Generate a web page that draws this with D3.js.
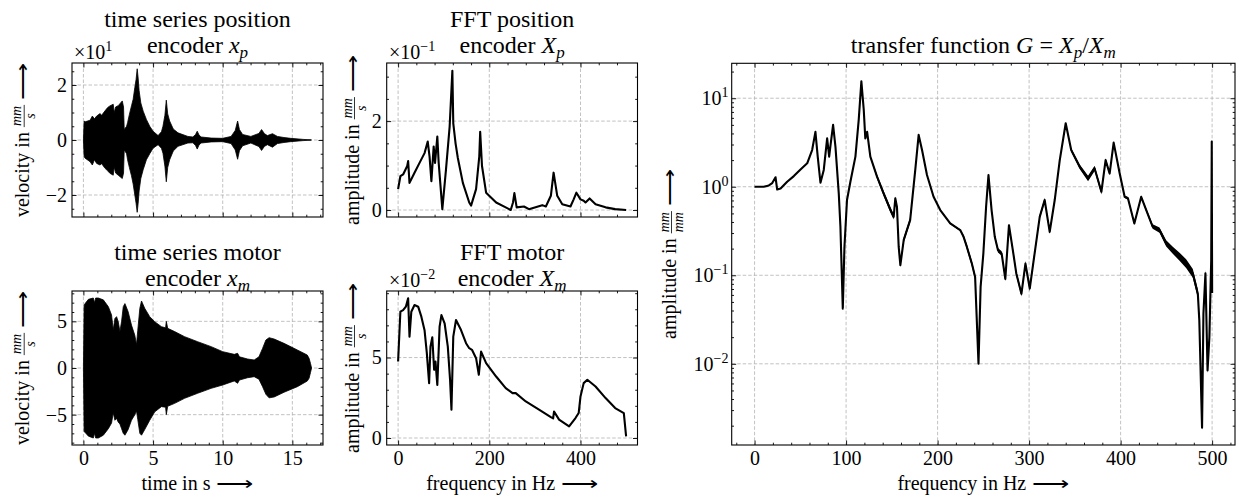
<!DOCTYPE html>
<html><head><meta charset="utf-8">
<script src="https://cdn.jsdelivr.net/npm/d3@7"></script>
<style>
body{margin:0;background:#fff;}
svg{display:block;}
</style></head><body>
<script>
// ---------------- DATA ----------------
// time series, position encoder x_p : envelope of velocity (mm/s)
const xpTime  = [0,0.05,0.12,0.48,0.64,0.79,0.95,1.19,1.31,1.55, 1.74,1.90,2.14,2.21,2.31,2.50,2.79,2.88,2.93,3.10, 3.17,3.30,3.45,3.57,3.69,3.78,3.86,3.93,4.00,4.12, 4.29,4.52,4.76,5.00,5.36,5.60,5.71,5.85,5.95,6.05, 6.19,6.45,6.79,7.50,7.86,8.05,8.17,8.30,8.45,9.17, 10.0,10.6,10.9,11.07,11.2,11.43,12.02,12.6,12.79,13.0, 13.21,13.57,13.93,14.4,14.88,15.83,16.36];
const xpUpper = [0,6.9,6.6,7.2,8.7,7.7,8.7,9.6,9.0,10.6, 11.8,12.4,13.0,10.0,12.0,12.5,14.2,12.0,3.8,5.0, 6.3,9.3,12.4,14.8,19.1,22.0,25.9,22.5,17.9,13.5, 10.5,7.5,5.0,3.2,1.6,3.0,5.0,9.0,14.5,9.5, 6.9,4.0,2.6,1.3,1.1,2.0,3.2,1.8,1.1,0.7, 0.6,1.3,3.5,6.9,3.8,2.0,1.3,2.4,3.8,2.3, 1.6,2.3,1.3,0.9,0.6,0.2,0.05];
const xpLower = [0,-6.0,-6.6,-7.9,-9.1,-7.2,-8.5,-9.1,-8.6,-10.3, -11.2,-12.1,-12.8,-9.8,-12.0,-12.8,-14.0,-12.0,-3.6,-5.0, -7.2,-10.0,-13.0,-16.0,-20.0,-23.0,-26.3,-23.0,-18.5,-14.0, -10.8,-7.2,-5.0,-3.0,-1.7,-3.0,-4.8,-9.5,-15.2,-10.0, -7.2,-4.0,-2.3,-1.1,-1.0,-2.0,-3.3,-1.8,-1.1,-0.7, -0.6,-1.3,-3.6,-7.0,-3.9,-2.1,-1.1,-2.4,-3.8,-2.3, -1.7,-2.6,-1.3,-0.9,-0.6,-0.2,-0.05];

// time series, motor encoder x_m : envelope of velocity (mm/s)
const xmTime  = [0,0.05,0.12,0.36,0.71,0.8,0.88,1.07,1.43,1.79, 2.02,2.14,2.26,2.38,2.5,2.62,2.74,2.86,2.98,3.21, 3.45,3.69,3.81,3.9,4.05,4.17,4.4,4.76,5.12,5.6, 5.9,5.95,6.05,6.55,7.26,8.2,9.17,10.0,10.83,11.07, 11.2,11.79,12.26,12.6,12.86,13.1,13.33,13.7,14.4,15.36, 16.07,16.2,16.3,16.38];
const xmUpper = [0,6.7,6.9,7.36,7.5,7.0,7.5,7.5,7.3,6.57, 5.68,4.1,5.3,5.5,4.96,3.9,5.0,6.57,6.9,6.04, 4.6,3.5,2.5,4.0,6.4,7.18,6.4,5.5,4.96,4.43, 4.3,5.0,4.25,3.9,3.36,2.82,2.29,1.75,1.46,1.57, 1.2,0.96,0.86,1.2,2.1,3.0,3.25,3.1,2.64,1.93, 1.39,1.04,0.5,0];
const xmLower = [0,-6.8,-6.9,-7.3,-7.5,-7.0,-7.5,-7.5,-7.2,-6.5, -5.9,-4.8,-5.6,-5.4,-5.8,-6.0,-6.5,-7.0,-7.2,-6.6, -5.6,-5.0,-4.6,-5.5,-7.0,-7.2,-6.6,-5.6,-4.7,-4.14, -4.2,-5.0,-4.1,-3.79,-3.25,-2.71,-2.18,-1.82,-1.39,-1.64, -1.29,-1.04,-0.93,-1.2,-2.0,-2.82,-3.2,-3.1,-2.6,-2.0, -1.4,-1.1,-0.5,0];

// FFT position encoder X_p (mm/s)
const xpFreq = [0,5,11,20,22,25,36,47,58,65, 69,73,78,81,86,89,97,105,113,119, 121,126,131,142,156,160,171,178,180,184, 193,215,236,247,252,255,260,276,287,316, 324,335,341,349,360,378,385,391,400,407, 411,420,433,455,476,500];
const xpAmp  = [0.047,0.076,0.080,0.099,0.110,0.061,0.084,0.106,0.128,0.154, 0.120,0.065,0.143,0.106,0.165,0.106,0.002,0.091,0.187,0.313, 0.195,0.150,0.117,0.061,0.017,0.010,0.047,0.120,0.176,0.099, 0.039,0.017,0.006,0.000,0.017,0.038,0.006,0.008,0.002,0.011, 0.008,0.032,0.084,0.032,0.013,0.008,0.024,0.039,0.024,0.021, 0.017,0.026,0.013,0.006,0.002,0.000];

// FFT motor encoder X_m (mm/s)
const xmFreq = [0,5,11,17,22,25,29,36,44,51, 58,63,68,71,75,79,82,86,91,95, 102,109,114,117,121,127,138,149,156,162, 171,177,182,193,215,236,251,258,280,309, 335,340,342,353,375,389,396,400,407,415, 433,455,476,495,500];
const xmAmp  = [0.0475,0.0785,0.0795,0.0816,0.0868,0.063,0.0785,0.0826,0.0816,0.0754, 0.067,0.0527,0.034,0.0568,0.0626,0.0424,0.0475,0.033,0.0692,0.0764, 0.0713,0.0568,0.036,0.0176,0.063,0.0733,0.0671,0.0589,0.0558,0.0548, 0.0496,0.0393,0.0537,0.0465,0.0382,0.031,0.0279,0.0279,0.0227,0.0176, 0.013,0.0122,0.0165,0.0114,0.0072,0.0124,0.0155,0.0258,0.0341,0.0362, 0.032,0.0248,0.0186,0.0155,0.001];

// transfer function G = X_p / X_m (mm/mm)
const gFreq = [0,10,15.6,19.3,22.9,24.7,28.4,35.6,42.9,50.2, 57.5,62.9,66.5,69,72,75.6,79.3,81.5,83,85.8, 88.4,92,93.8,96.4,98.2,101,104.7,110.2,113.8,116.7, 119.3,121,123,126.5,133.8,141,148.4,152,153.8,155.6, 157.5,159.3,163,170,175.6,179.3,183,188.4,195.6,202.9, 213.8,224.7,228.4,232,237.5,241,244.7,247,250,253, 255.6,259,262.5,266,270,274,278,282.5,286,291.6, 296,300.7,306,311.6,317,322.5,328,333.5,340,346, 355.3,364.4,371.6,379,383.6,388,392.4,399,404.4,408, 415,422.5,428,435,442.5,449.8,457,464.4,471.6,478.9, 484.4,486,489,490.5,492.7,495,497,499,499.6,500];
const gAmp  = [1.0,1.0,1.035,1.10,1.28,0.93,0.955,1.14,1.32,1.57, 1.84,2.6,4.17,2.19,1.11,1.55,3.52,2.19,2.95,5.0, 2.82,0.84,0.355,0.042,0.209,0.708,1.14,2.19,5.69,15.5, 7.41,3.52,4.17,2.19,1.30,0.84,0.55,0.457,0.74,0.59, 0.209,0.13,0.251,0.42,1.55,3.85,2.6,1.355,0.77,0.545, 0.385,0.324,0.272,0.209,0.135,0.0955,0.010,0.074,0.176,0.594, 1.355,0.545,0.272,0.192,0.176,0.091,0.368,0.184,0.105,0.0617, 0.1355,0.0708,0.176,0.457,0.708,0.309,0.708,2.0,5.21,2.6, 1.68,1.24,1.61,0.877,2.0,1.41,3.15,1.41,0.77,0.74, 0.385,0.77,0.545,0.355,0.324,0.229,0.192,0.162,0.1355,0.105, 0.0617,0.031,0.0019,0.037,0.105,0.0084,0.020,0.148,3.24,0.063];
// half-width of the noisy band around G, in decades
const gSpread = [0,0,0,0,0,0,0,0,0,0, 0,0,0,0,0,0,0,0,0,0, 0,0,0,0,0,0,0,0,0,0, 0,0,0,0.01,0.025,0.03,0.03,0.03,0.02,0.02, 0.02,0.02,0.03,0.03,0.02,0.01,0.01,0.01,0.008,0.008, 0.008,0.01,0.02,0.03,0.03,0.03,0.02,0.03,0.03,0.02, 0.02,0.02,0.025,0.025,0.025,0.03,0.02,0.03,0.03,0.03, 0.03,0.03,0.03,0.025,0.025,0.025,0.02,0.015,0.01,0.02, 0.025,0.03,0.03,0.03,0.02,0.02,0.01,0.015,0.015,0.015, 0.015,0.015,0.02,0.025,0.03,0.035,0.04,0.045,0.05,0.05, 0.05,0.05,0.03,0.04,0.04,0.03,0.03,0.02,0,0];

// tick values
const timeTicks = [0,5,10,15];
const freqTicksSmall = [0,200,400];
const freqTicksLarge = [0,100,200,300,400,500];
const xpTicks = [-20,0,20];
const xmTicks = [-5,0,5];
const XpTicks = [0,0.2];
const XmTicks = [0,0.05];
const gTicks = [0.01,0.1,1,10];

// ---------------- DRAWING ----------------
const FONT = '"Liberation Serif","Times New Roman",serif';
const svg = d3.select('body').append('svg').attr('width',1240).attr('height',498);

function range(a,b,s){const r=[];for(let v=a;v<=b+1e-9;v+=s)r.push(+v.toFixed(6));return r;}
function minorOf(vals, majors){return vals.filter(v=>!majors.some(m=>Math.abs(m-v)<1e-9));}

let clipN=0;
function makePanel(c){
  const g = svg.append('g');
  const xs = d3.scaleLinear().domain(c.xd).range([c.left,c.right]);
  const ys = (c.log?d3.scaleLog():d3.scaleLinear()).domain(c.yd).range([c.bottom,c.top]);
  const id='clip'+(clipN++);
  svg.append('clipPath').attr('id',id).append('rect')
    .attr('x',c.left).attr('y',c.top).attr('width',c.right-c.left).attr('height',c.bottom-c.top);
  const grid=g.append('g').attr('stroke','#b3b3b3').attr('stroke-width',0.8).attr('stroke-dasharray','3.5,2');
  grid.selectAll(null).data(c.xMaj).join('line')
    .attr('x1',d=>xs(d)).attr('x2',d=>xs(d)).attr('y1',c.top).attr('y2',c.bottom);
  grid.selectAll(null).data(c.yMaj).join('line')
    .attr('y1',d=>ys(d)).attr('y2',d=>ys(d)).attr('x1',c.left).attr('x2',c.right);
  const plot=g.append('g').attr('clip-path',`url(#${id})`);
  return {g,xs,ys,plot,c};
}

function axis(p, gen, tr, vals, size, fmt, pad){
  const a=p.g.append('g').attr('transform',tr)
    .call(gen.tickValues(vals).tickSizeInner(-size).tickSizeOuter(0).tickPadding(pad||6).tickFormat(fmt||(()=>'')));
  a.attr('font-family',FONT).attr('font-size',20);
  a.select('.domain').remove();
  a.selectAll('.tick line').attr('stroke','#000').attr('stroke-width',0.9);
  a.selectAll('.tick text').attr('fill','#000').attr('font-family',FONT);
  return a;
}

function finishPanel(p){
  const c=p.c;
  axis(p,d3.axisBottom(p.xs),`translate(0,${c.bottom})`,c.xMaj,4.5,c.xFmt,5.8);
  axis(p,d3.axisBottom(p.xs),`translate(0,${c.bottom})`,c.xMin,2.3);
  axis(p,d3.axisTop(p.xs),`translate(0,${c.top})`,c.xMaj,4.5);
  axis(p,d3.axisTop(p.xs),`translate(0,${c.top})`,c.xMin,2.3);
  axis(p,d3.axisLeft(p.ys),`translate(${c.left},0)`,c.yMaj,4.5,c.yFmt,5);
  axis(p,d3.axisLeft(p.ys),`translate(${c.left},0)`,c.yMin,2.3);
  axis(p,d3.axisRight(p.ys),`translate(${c.right},0)`,c.yMaj,4.5);
  axis(p,d3.axisRight(p.ys),`translate(${c.right},0)`,c.yMin,2.3);
  p.g.append('rect').attr('x',c.left).attr('y',c.top).attr('width',c.right-c.left).attr('height',c.bottom-c.top)
    .attr('fill','none').attr('stroke','#000').attr('stroke-width',1.1);
}

function title(cx, lines){
  lines.forEach(L=>{
    const t=svg.append('text').attr('x',cx).attr('y',L.y).attr('text-anchor','middle')
      .attr('font-family',FONT).attr('font-size',24).attr('fill','#000');
    let shifted=0;
    L.parts.forEach(pt=>{
      const s=t.append('tspan').text(pt.t);
      if(pt.i) s.attr('font-style','italic');
      if(pt.sub){ s.attr('font-size',17).attr('dy',5-shifted); shifted=5; }
      else if(shifted){ s.attr('dy',-shifted); shifted=0; }
    });
  });
}

function offsetText(x,y,exp){
  const t=svg.append('text').attr('x',x).attr('y',y).attr('font-family',FONT).attr('font-size',20).attr('fill','#000');
  t.append('tspan').text('×10');
  t.append('tspan').attr('font-size',14).attr('dy',-8).text(exp);
}

// long right arrow (text glyph, stretched horizontally); returns its width
function arrowText(parent,x,y){
  const sx=1.3;
  const g=parent.append('g').attr('transform',`translate(${x},${y}) scale(${sx},1)`);
  const t=g.append('text').attr('x',0).attr('y',0).attr('font-family','"DejaVu Sans"').attr('font-weight',200)
    .attr('font-size',20).attr('fill','#000').text('⟶');
  return t.node().getComputedTextLength()*sx;
}

function yLabel(baseX, cy, word, num, den){
  const g=svg.append('g').attr('transform',`translate(${baseX},${cy}) rotate(-90)`);
  const inner=g.append('g').attr('font-family',FONT).attr('fill','#000');
  const t1=inner.append('text').attr('x',0).attr('y',0).attr('font-size',20).text(word);
  let x=t1.node().getComputedTextLength()+5;
  const tn=inner.append('text').attr('font-size',14).attr('font-style','italic').attr('text-anchor','middle').text(num);
  const td=inner.append('text').attr('font-size',14).attr('font-style','italic').attr('text-anchor','middle').text(den);
  const fw=Math.max(tn.node().getComputedTextLength(),td.node().getComputedTextLength())+2;
  tn.attr('x',x+fw/2).attr('y',-7.5);
  td.attr('x',x+fw/2).attr('y',6.5);
  inner.append('line').attr('x1',x).attr('x2',x+fw).attr('y1',-4.5).attr('y2',-4.5).attr('stroke','#000').attr('stroke-width',0.8);
  x+=fw+5;
  x+=arrowText(inner,x,0);
  inner.attr('transform',`translate(${-x/2},0)`);
}

function xLabel(cx, y, word){
  const g=svg.append('g').attr('fill','#000');
  const t=g.append('text').attr('x',0).attr('y',y).attr('font-family',FONT).attr('font-size',20).text(word);
  const w=t.node().getComputedTextLength()+6;
  const tot=w+arrowText(g,w,y);
  g.attr('transform',`translate(${cx-tot/2},0)`);
}

const fmtInt=d3.format('d');

// ---- Panel A: time series position encoder
const pA=makePanel({left:72,right:323,top:63,bottom:217,xd:[-0.82,17.2],yd:[-28,28],
  xMaj:timeTicks,xMin:minorOf(range(0,17,1),timeTicks),
  yMaj:xpTicks,yMin:minorOf(range(-25,25,5),xpTicks),
  xFmt:()=>'',yFmt:d=>fmtInt(d/10)});
pA.plot.append('path').datum(d3.range(xpTime.length))
  .attr('d',d3.area().x(i=>pA.xs(xpTime[i])).y0(i=>pA.ys(xpLower[i])).y1(i=>pA.ys(xpUpper[i])))
  .attr('fill','#000').attr('stroke','#000').attr('stroke-width',0.8);
finishPanel(pA);

// ---- Panel B: time series motor encoder
const pB=makePanel({left:72,right:323,top:291,bottom:445,xd:[-0.82,17.2],yd:[-8.25,8.25],
  xMaj:timeTicks,xMin:minorOf(range(0,17,1),timeTicks),
  yMaj:xmTicks,yMin:minorOf(range(-8,8,1),xmTicks),
  xFmt:d=>fmtInt(d),yFmt:d=>fmtInt(d)});
pB.plot.append('path').datum(d3.range(xmTime.length))
  .attr('d',d3.area().x(i=>pB.xs(xmTime[i])).y0(i=>pB.ys(xmLower[i])).y1(i=>pB.ys(xmUpper[i])))
  .attr('fill','#000').attr('stroke','#000').attr('stroke-width',0.8);
finishPanel(pB);

// ---- Panel C: FFT position encoder
const pC=makePanel({left:386.7,right:637.5,top:63,bottom:217,xd:[-25,525],yd:[-0.0157,0.3307],
  xMaj:freqTicksSmall,xMin:minorOf(range(40,480,40),freqTicksSmall),
  yMaj:XpTicks,yMin:minorOf(range(0.05,0.3,0.05),XpTicks),
  xFmt:()=>'',yFmt:d=>fmtInt(Math.round(d*10))});
pC.plot.append('path').datum(d3.range(xpFreq.length))
  .attr('d',d3.line().x(i=>pC.xs(xpFreq[i])).y(i=>pC.ys(xpAmp[i])))
  .attr('fill','none').attr('stroke','#000').attr('stroke-width',2.1).attr('stroke-linejoin','round');
finishPanel(pC);

// ---- Panel D: FFT motor encoder
const pD=makePanel({left:386.7,right:637.5,top:291,bottom:445,xd:[-25,525],yd:[-0.00435,0.09135],
  xMaj:freqTicksSmall,xMin:minorOf(range(40,480,40),freqTicksSmall),
  yMaj:XmTicks,yMin:minorOf(range(0.01,0.09,0.01),XmTicks),
  xFmt:d=>fmtInt(d),yFmt:d=>fmtInt(Math.round(d*100))});
pD.plot.append('path').datum(d3.range(xmFreq.length))
  .attr('d',d3.line().x(i=>pD.xs(xmFreq[i])).y(i=>pD.ys(xmAmp[i])))
  .attr('fill','none').attr('stroke','#000').attr('stroke-width',2.1).attr('stroke-linejoin','round');
finishPanel(pD);

// ---- Panel E: transfer function
const logMinor=[];
[0.001,0.01,0.1,1,10].forEach(b=>{for(let k=2;k<=9;k++){const v=b*k; if(v>0.00121&&v<24.8) logMinor.push(v);}});
const pE=makePanel({left:731.7,right:1235,top:63.3,bottom:445,xd:[-25,525],yd:[0.00121,24.8],log:true,
  xMaj:freqTicksLarge,xMin:minorOf(range(-20,520,20),freqTicksLarge),
  yMaj:gTicks,yMin:logMinor,
  xFmt:d=>fmtInt(d),yFmt:()=>''});
pE.plot.append('path').datum(d3.range(gFreq.length))
  .attr('d',d3.area().x(i=>pE.xs(gFreq[i]))
     .y0(i=>pE.ys(gAmp[i]/Math.pow(10,gSpread[i]))).y1(i=>pE.ys(gAmp[i]*Math.pow(10,gSpread[i]))))
  .attr('fill','#000').attr('stroke','none');
pE.plot.append('path').datum(d3.range(gFreq.length))
  .attr('d',d3.line().x(i=>pE.xs(gFreq[i])).y(i=>pE.ys(gAmp[i])))
  .attr('fill','none').attr('stroke','#000').attr('stroke-width',2.1).attr('stroke-linejoin','round');
finishPanel(pE);
const expLabels={0.01:'−2',0.1:'−1',1:'0',10:'1'};
gTicks.forEach(v=>{
  const t=svg.append('text').attr('x',728.5).attr('y',pE.ys(v)+7).attr('text-anchor','end')
    .attr('font-family',FONT).attr('font-size',20).attr('fill','#000');
  t.append('tspan').text('10');
  t.append('tspan').attr('font-size',14).attr('dy',-8).text(expLabels[v]);
});

// ---- offset texts
offsetText(74,59,'1');
offsetText(389,58.5,'−1');
offsetText(389,286.5,'−2');

// ---- titles
title(197.5,[{y:27,parts:[{t:'time series position'}]},{y:53,parts:[{t:'encoder '},{t:'x',i:1},{t:'p',i:1,sub:1}]}]);
title(197.5,[{y:259.5,parts:[{t:'time series motor'}]},{y:286,parts:[{t:'encoder '},{t:'x',i:1},{t:'m',i:1,sub:1}]}]);
title(512.1,[{y:27,parts:[{t:'FFT position'}]},{y:53,parts:[{t:'encoder '},{t:'X',i:1},{t:'p',i:1,sub:1}]}]);
title(512.1,[{y:259.5,parts:[{t:'FFT motor'}]},{y:286,parts:[{t:'encoder '},{t:'X',i:1},{t:'m',i:1,sub:1}]}]);
title(983.3,[{y:53,parts:[{t:'transfer function '},{t:'G',i:1},{t:' = '},{t:'X',i:1},{t:'p',i:1,sub:1},{t:'/'},{t:'X',i:1},{t:'m',i:1,sub:1}]}]);

// ---- axis labels
yLabel(28.7,140,'velocity in','mm','s');
yLabel(28.7,368,'velocity in','mm','s');
yLabel(359,140,'amplitude in','mm','s');
yLabel(359,368,'amplitude in','mm','s');
yLabel(676,254,'amplitude in','mm','mm');
xLabel(197.5,490,'time in s');
xLabel(512.1,490,'frequency in Hz');
xLabel(983.3,490,'frequency in Hz');
</script></body></html>
